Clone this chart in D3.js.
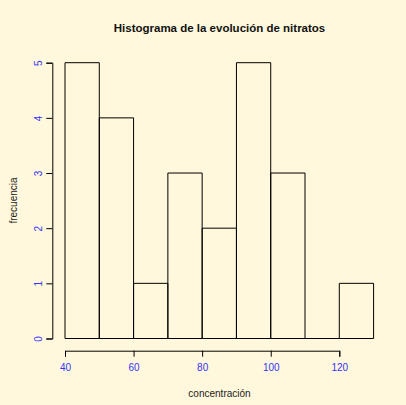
<!DOCTYPE html>
<html><head><meta charset="utf-8">
<script src="https://cdn.jsdelivr.net/npm/d3@7"></script>
<style>body{margin:0;background:#FFF8DC;} svg{display:block;}</style>
</head><body>
<script>
const binStarts = [40,50,60,70,80,90,100,110,120];
const binWidth = 10;
const counts = [5,4,1,3,2,5,3,0,1];
const xTicks = [40,60,80,100,120];
const yTicks = [0,1,2,3,4,5];
const title = "Histograma de la evolución de nitratos";
const xLabel = "concentración";
const yLabel = "frecuencia";

const W=406,H=405;
const svg=d3.select("body").append("svg").attr("width",W).attr("height",H);
svg.append("rect").attr("width",W).attr("height",H).attr("fill","#FFF8DC");
const x=d3.scaleLinear().domain([40,120]).range([65,339.3]);
const y=d3.scaleLinear().domain([0,5]).range([338.5,62.7]);
const font="Liberation Sans, Arial, sans-serif";

svg.selectAll("path.bar").data(binStarts).enter().append("path").attr("class","bar")
 .attr("d",(d,i)=>{const x0=x(d),x1=x(d+binWidth),y0=y(0),y1=y(counts[i]);
   return `M${x0},${y0}L${x0},${y1}L${x1},${y1}L${x1},${y0}Z`;})
 .attr("fill","none").attr("stroke","#000").attr("stroke-width",1);

const xAxis=svg.append("g").attr("transform","translate(0,350.7)")
 .call(d3.axisBottom(x).tickValues(xTicks).tickSize(6).tickPadding(7).tickFormat(d3.format("d")));
const yAxis=svg.append("g").attr("transform","translate(52.3,0)")
 .call(d3.axisLeft(y).tickValues(yTicks).tickSize(6).tickPadding(9).tickFormat(d3.format("d")));
[xAxis,yAxis].forEach(g=>{g.select(".domain").attr("stroke","#000");
 g.selectAll(".tick line").attr("stroke","#000");
 g.selectAll("text").attr("fill","#3333ff").style("font-family",font).style("font-size","10px");});
yAxis.selectAll(".tick text")
 .each(function(d){d3.select(this).attr("x",null).attr("dy",null)
   .attr("text-anchor","middle").attr("transform",`translate(-14,0) rotate(-90)`).attr("dy","0.35em");});
xAxis.selectAll(".tick text").attr("dy","0.71em");

svg.append("text").attr("x",219.5).attr("y",31.7).attr("text-anchor","middle")
 .style("font-family",font).style("font-size","11.5px").style("font-weight","bold").attr("fill","#111").text(title);
svg.append("text").attr("x",219.5).attr("y",396.5).attr("text-anchor","middle")
 .style("font-family",font).style("font-size","10px").attr("fill","#222").text(xLabel);
svg.append("text").attr("transform","translate(17,200.5) rotate(-90)").attr("text-anchor","middle")
 .style("font-family",font).style("font-size","10px").attr("fill","#222").text(yLabel);
</script>
</body></html>
